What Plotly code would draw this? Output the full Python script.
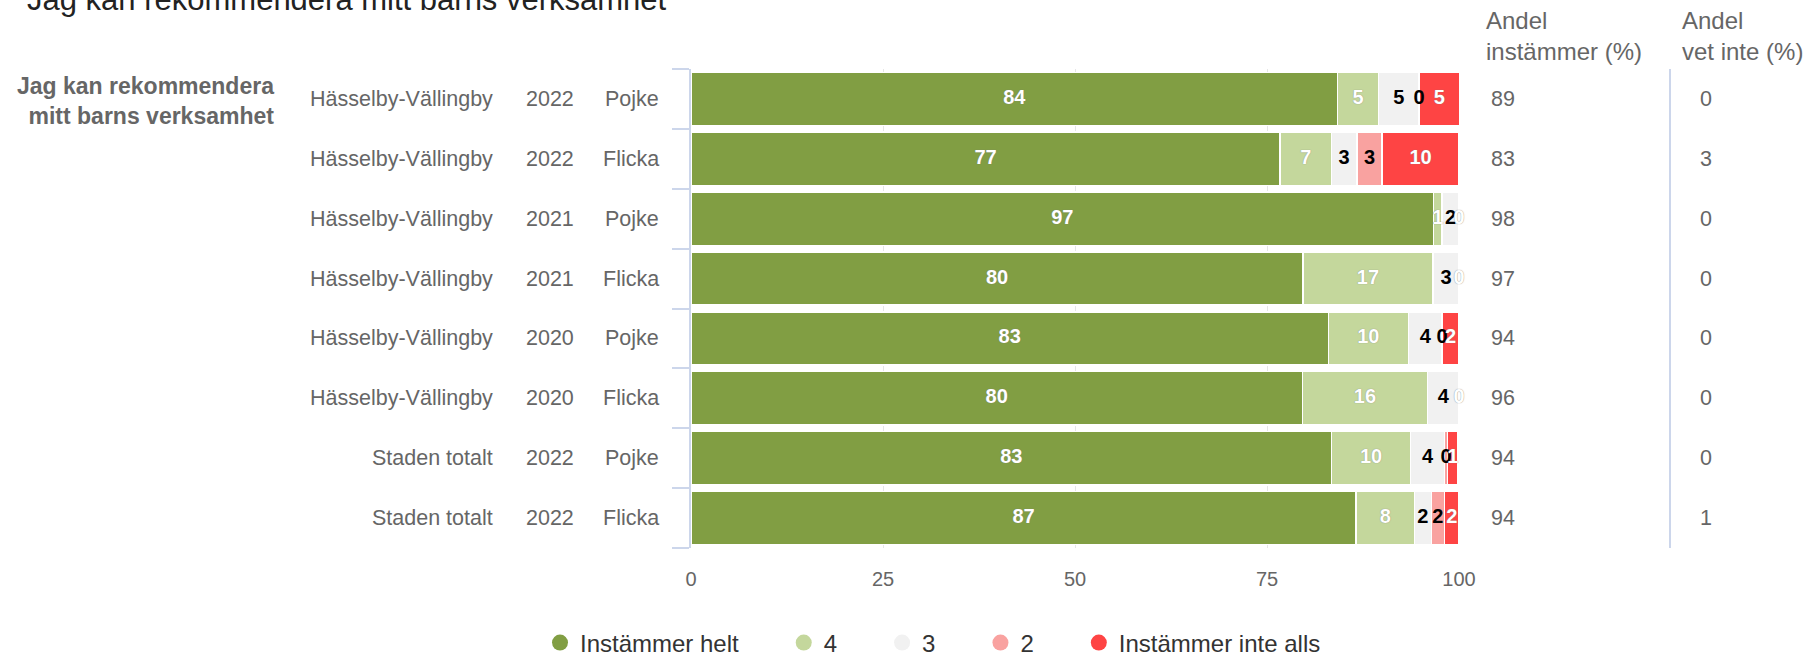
import plotly.graph_objects as go

# ---------------- data ----------------
areas = ["Hässelby-Vällingby"] * 6 + ["Staden totalt"] * 2
years = ["2022", "2022", "2021", "2021", "2020", "2020", "2022", "2022"]
genders = ["Pojke", "Flicka", "Pojke", "Flicka", "Pojke", "Flicka", "Pojke", "Flicka"]

series_names = ["Instämmer helt", "4", "3", "2", "Instämmer inte alls"]
helt = [84.2, 76.7, 96.7, 79.7, 83.0, 79.6, 83.4, 86.6]
fyra = [5.3, 6.7, 1.1, 16.9, 10.4, 16.3, 10.3, 7.6]
tre = [5.3, 3.3, 2.2, 3.4, 4.4, 4.1, 4.4, 2.2]
tva = [0, 3.3, None, None, 0, None, 0.4, 1.7]
inte_alls = [5.3, 10.0, 0, 0, 2.2, 0, 1.4, 1.9]

andel_instammer = [89, 83, 98, 97, 94, 96, 94, 94]
andel_vet_inte = [0, 3, 0, 0, 0, 0, 0, 1]

question = "Jag kan rekommendera<br>mitt barns verksamhet"
title_text = "Jag kan rekommendera mitt barns verksamhet"
x_ticks = [0, 25, 50, 75, 100]

# ---------------- styles ----------------
colors = ["#819e43", "#c4d79c", "#f1f1f1", "#f9a2a0", "#fe4444"]
label_colors = ["white", "white", "black", "black", "white"]
FONT = "Liberation Sans, Arial, sans-serif"
GREY = "#666666"
AXIS = "#ccd6eb"
PAD = "\u00a0" * 6
PLOT_T, PLOT_B, PLOT_L, PLOT_R = 69, 548, 691, 1459
PW, PH = PLOT_R - PLOT_L, PLOT_B - PLOT_T

series = [helt, fyra, tre, tva, inte_alls]
rows = list(range(len(areas)))

fig = go.Figure()

# stacked bars
for name, vals, col in zip(series_names, series, colors):
    fig.add_trace(go.Bar(
        x=vals, y=rows, orientation="h", name=name,
        marker=dict(color=col, line=dict(color="white", width=1.5)),
        showlegend=False, hoverinfo="skip",
    ))

# data labels (centred on each segment)
cum = [0.0] * len(rows)
for vals, lc in zip(series, label_colors):
    xs, ys, ts = [], [], []
    for i, v in enumerate(vals):
        if v is None:
            continue
        xs.append(cum[i] + v / 2)
        ys.append(i)
        ts.append(f"{v:.0f}")
        cum[i] += v
    fig.add_trace(go.Scatter(
        x=xs, y=ys, text=ts, mode="text", showlegend=False, hoverinfo="skip",
        cliponaxis=False,
        textfont=dict(family=FONT, size=20, color=lc, weight="bold",
                      shadow="0px 0px 1px #777" if lc == "white" else "none"),
    ))

# legend entries (circles)
for k, (name, col) in enumerate(zip(series_names, colors)):
    fig.add_trace(go.Scatter(
        x=[None], y=[None], mode="markers",
        name=name + (PAD if k < len(series_names) - 1 else ""),
        marker=dict(color=col, size=22, symbol="circle"),
    ))


def px_x(px):
    return (px - PLOT_L) / PW


def px_y(py):
    return (PLOT_B - py) / PH


ann = []
for i in rows:
    for txt, xp, anchor in ((areas[i], 495, "right"), (years[i], 550, "center"),
                            (genders[i], 661, "right"),
                            (str(andel_instammer[i]), 1489, "left"),
                            (str(andel_vet_inte[i]), 1706, "center")):
        ann.append(dict(x=px_x(xp), y=i, xref="paper", yref="y", text=txt,
                        xanchor=anchor, yanchor="middle", showarrow=False,
                        font=dict(family=FONT, size=21.5, color=GREY)))

ann.append(dict(x=px_x(276), y=0, xref="paper", yref="y",
                yshift=-2, text="<b>" + question + "</b>", align="right",
                xanchor="right", yanchor="middle", showarrow=False,
                font=dict(family=FONT, size=23, color=GREY)))
ann.append(dict(x=px_x(1484), y=px_y(36), xref="paper", yref="paper",
                text="Andel<br>instämmer (%)", align="left",
                xanchor="left", yanchor="middle", showarrow=False,
                font=dict(family=FONT, size=24, color=GREY)))
ann.append(dict(x=px_x(1680), y=px_y(36), xref="paper", yref="paper",
                text="Andel<br>vet inte (%)", align="left",
                xanchor="left", yanchor="middle", showarrow=False,
                font=dict(family=FONT, size=24, color=GREY)))
# chart title (mostly above the visible area, as in the source)
ann.append(dict(x=px_x(25), y=px_y(-1), xref="paper", yref="paper",
                text=title_text, xanchor="left", yanchor="middle", showarrow=False,
                font=dict(family=FONT, size=31, color="#222222")))

fig.update_layout(
    width=1806, height=658, autosize=False,
    margin=dict(l=PLOT_L, r=1806 - PLOT_R, t=PLOT_T, b=658 - PLOT_B, pad=0),
    paper_bgcolor="white", plot_bgcolor="white",
    barmode="stack", bargap=0.11,
    font=dict(family=FONT, color=GREY),
    xaxis=dict(range=[0, 100], tickvals=x_ticks, showgrid=True, gridcolor="#e6e6e6",
               gridwidth=1, zeroline=False, showline=False, ticks="outside",
               ticklen=13, tickcolor="rgba(0,0,0,0)",
               tickfont=dict(family=FONT, size=20, color=GREY), fixedrange=True),
    yaxis=dict(range=[len(rows) - 0.5, -0.5], tickvals=[r - 0.5 for r in range(len(rows) + 1)],
               ticktext=[""] * (len(rows) + 1), showgrid=False, zeroline=False,
               showline=True, linecolor=AXIS, linewidth=2,
               ticks="outside", ticklen=17, tickwidth=2, tickcolor=AXIS, fixedrange=True),
    legend=dict(orientation="h", x=px_x(540), xref="paper", xanchor="left",
                y=1 - 643 / 658, yref="container", yanchor="middle",
                traceorder="normal",
                font=dict(family=FONT, size=24, color="#333333"),
                itemclick=False, itemdoubleclick=False),
    annotations=ann,
    shapes=[dict(type="line", xref="paper", yref="paper",
                 x0=px_x(1670), x1=px_x(1670), y0=0, y1=1,
                 line=dict(color=AXIS, width=2))],
)

fig.write_html("out.html", config={"displayModeBar": False},
               post_script="document.body.style.margin='0';")
